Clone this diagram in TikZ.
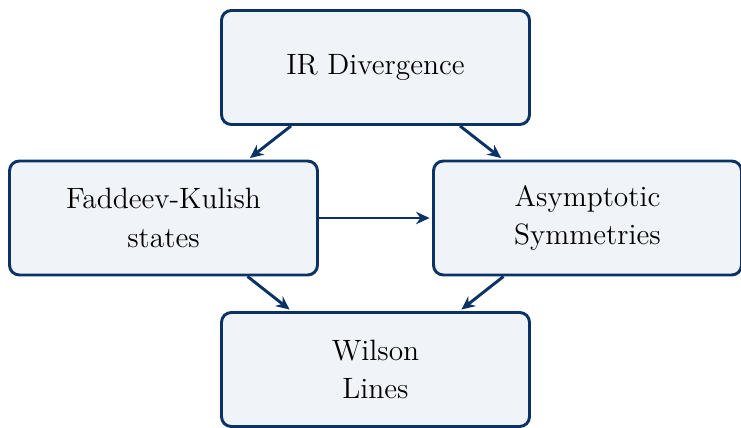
\documentclass[tikz,border=0pt]{standalone}
\usetikzlibrary{arrows.meta}
\definecolor{navy}{RGB}{10,50,100}
\definecolor{boxfill}{RGB}{240,244,248}
\begin{document}
\begin{tikzpicture}[x=0.408pt,y=-0.408pt,
  box/.style={draw=navy,fill=boxfill,line width=1.2pt,rounded corners=4pt,
    minimum width=125.66pt,minimum height=46.5pt,align=center,
    font=\fontsize{12}{15.6}\selectfont,inner sep=2pt},
  arr/.style={draw=navy,line width=1.2pt,-{Stealth[length=5.5pt,width=5pt]},shorten >=1pt}]
\useasboundingbox (0,0) rectangle (741,427);
\node[box] (top) at (375.5,67.5) {IR Divergence};
\node[box] (left) at (163.5,218) {Faddeev-Kulish\\states};
\node[box] (right) at (587.5,218) {Asymptotic\\Symmetries};
\node[box] (bot) at (375.5,369.5) {Wilson\\Lines};
\draw[arr] ([xshift=-84.5*0.408pt]top.south) -- ([xshift=84.5*0.408pt]left.north);
\draw[arr] ([xshift=84.5*0.408pt]top.south) -- ([xshift=-84.5*0.408pt]right.north);
\draw[arr] ([xshift=84*0.408pt]left.south) -- ([xshift=-84*0.408pt]bot.north);
\draw[arr] ([xshift=-84*0.408pt]right.south) -- ([xshift=84*0.408pt]bot.north);
\draw[arr] (left.east) -- (right.west);
\end{tikzpicture}
\end{document}
